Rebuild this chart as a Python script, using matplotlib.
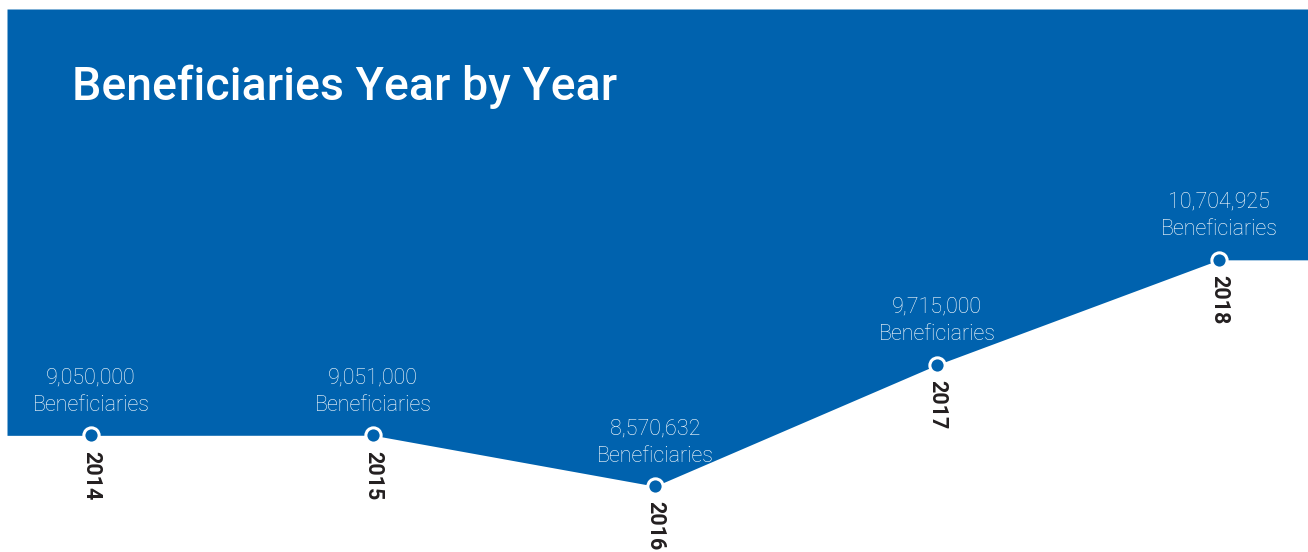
import matplotlib.pyplot as plt
import numpy as np

years = [2014, 2015, 2016, 2017, 2018]
beneficiaries = [9050000, 9051000, 8570632, 9715000, 10704925]
value_labels = ["9,050,000", "9,051,000", "8,570,632", "9,715,000", "10,704,925"]

blue = "#0062ae"
dark = "#231f20"

fig = plt.figure(figsize=(13.08, 5.52), dpi=100)
fig.patch.set_facecolor("white")

# axes starts a few pixels in from the left and top, like the original panel
ax = fig.add_axes([7 / 1308, 0, 1 - 7 / 1308, 543 / 552])
ax.set_xlim(2013.702, 2018.316)
ax.set_ylim(7.95e6, 13.07e6)
ax.axis("off")

ymax = ax.get_ylim()[1]
xs = [ax.get_xlim()[0]] + years + [ax.get_xlim()[1]]
ys = [beneficiaries[0]] + beneficiaries + [beneficiaries[-1]]
ax.fill_between(xs, ys, ymax, color=blue, linewidth=0)

ax.plot(years, beneficiaries, linestyle="none", marker="o", markersize=11,
        markerfacecolor=blue, markeredgecolor="white", markeredgewidth=2.2,
        zorder=5)

for yr, v, lab in zip(years, beneficiaries, value_labels):
    ax.annotate(lab + "\nBeneficiaries", (yr, v), xytext=(0, 14),
                textcoords="offset points", ha="center", va="bottom",
                color="white", fontsize=15.5, family="Roboto", weight="light",
                linespacing=1.4)
    ax.annotate(str(yr), (yr, v), xytext=(0, -11), textcoords="offset points",
                ha="center", va="top", rotation=270, color=dark,
                fontsize=15.5, family="Roboto", weight="bold")

fig.text(72 / 1308, 1 - 87 / 552, "Beneficiaries Year by Year", color="white",
         fontsize=33.5, family="Roboto", weight="medium", va="center", ha="left")

fig.savefig("out.png", dpi=100, facecolor="white")
